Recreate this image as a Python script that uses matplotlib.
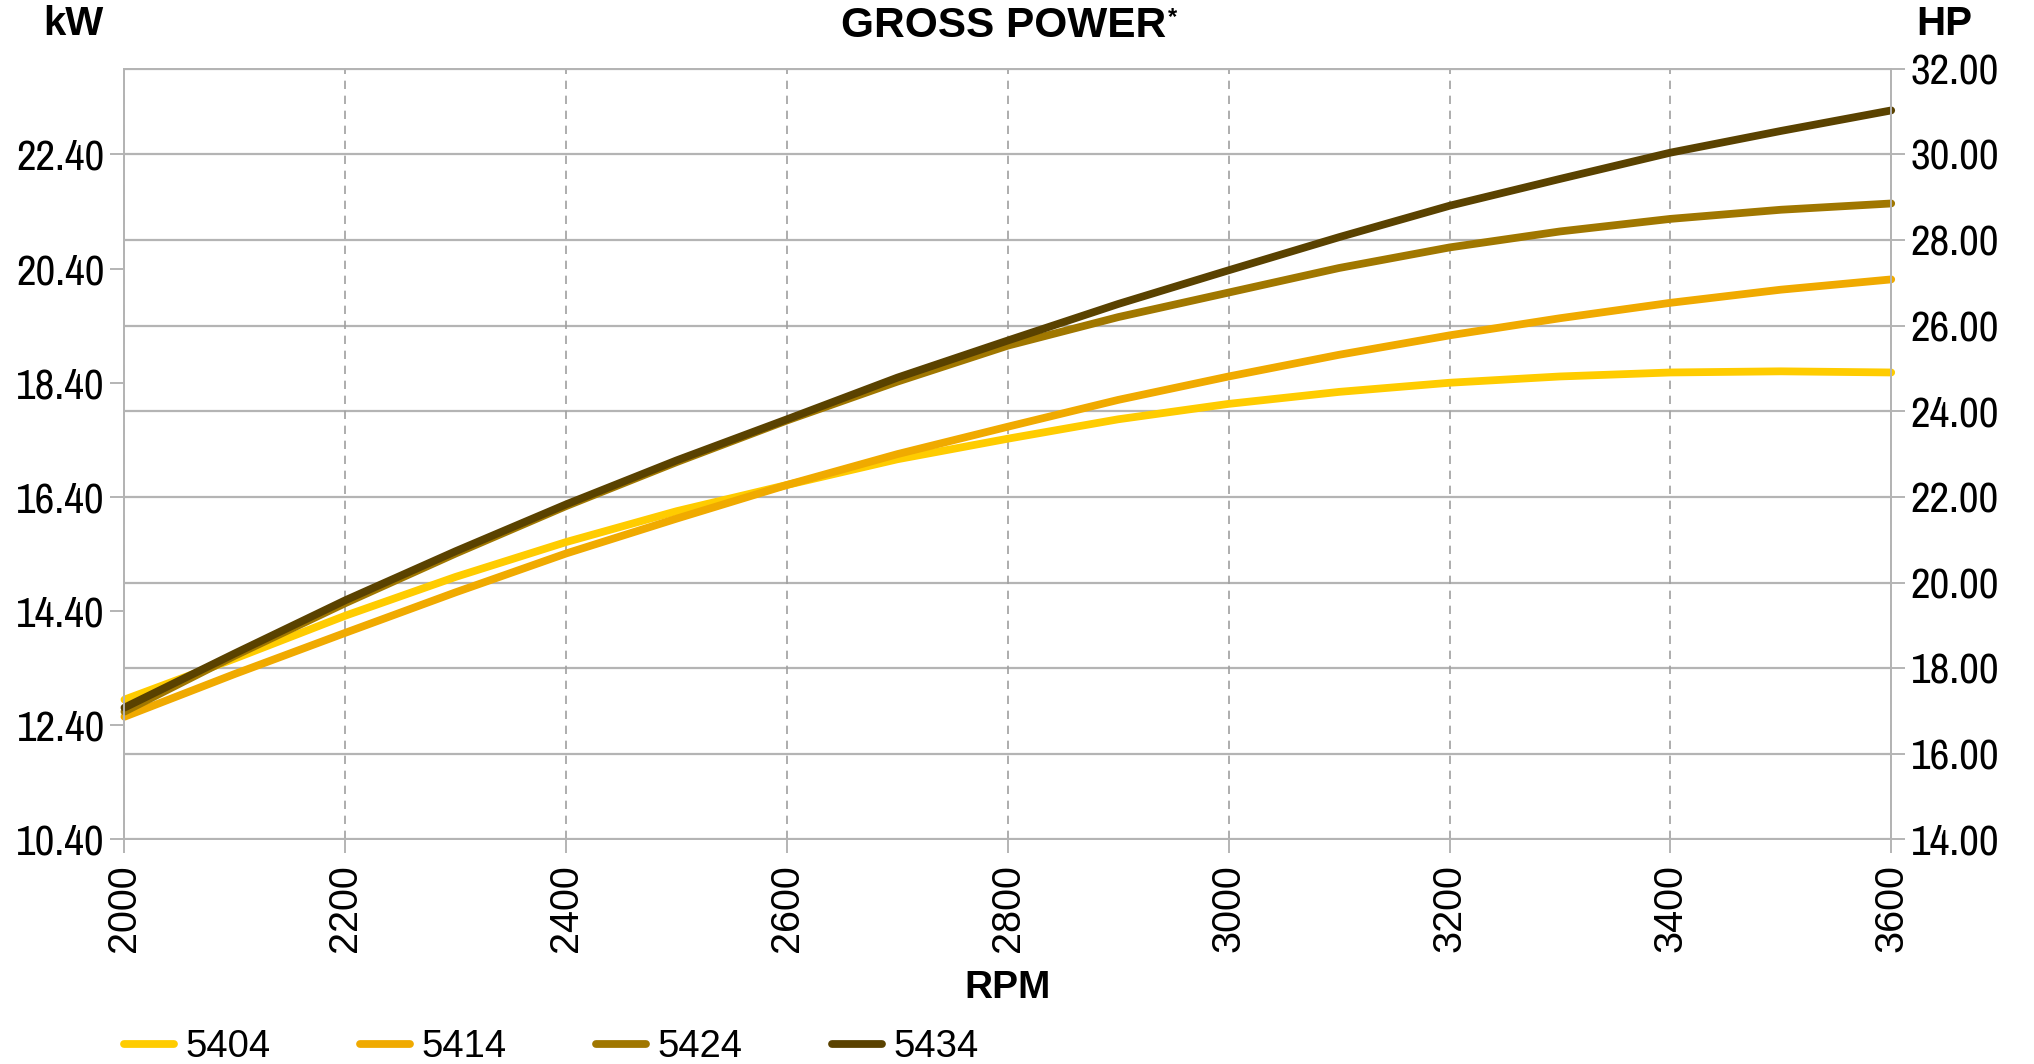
import numpy as np
import matplotlib as mpl
mpl.use('Agg')
import matplotlib.pyplot as plt
from matplotlib import font_manager

# fonts: a condensed family for the y ticks if one is installed
names = sorted({f.name for f in font_manager.fontManager.ttflist})
narrow = None
for n in names:
    if 'Narrow' in n or 'Condensed' in n:
        narrow = n
        break
if narrow is None:
    narrow = 'Liberation Sans'
    ytick_size = 25
else:
    ytick_size = 31
plt.rcParams['font.family'] = ['Liberation Sans', 'DejaVu Sans']

yellow = '#FFCC00'
orange = '#F0AA00'
brown = '#A07700'
dark = '#5A4200'
grid_grey = '#b4b4b4'

rpm = [2000, 2100, 2200, 2300, 2400, 2500, 2600, 2700, 2800,
       2900, 3000, 3100, 3200, 3300, 3400, 3500, 3600]
kw_5404 = [12.85, 13.57, 14.32, 15.00, 15.61, 16.15, 16.61, 17.06, 17.42,
           17.76, 18.03, 18.24, 18.40, 18.51, 18.58, 18.60, 18.58]
kw_5414 = [12.55, 13.30, 14.02, 14.73, 15.41, 16.02, 16.61, 17.15, 17.63,
           18.10, 18.51, 18.89, 19.23, 19.53, 19.80, 20.03, 20.21]
kw_5424 = [12.64, 13.62, 14.54, 15.41, 16.24, 17.01, 17.74, 18.42, 19.05,
           19.55, 19.98, 20.41, 20.77, 21.05, 21.27, 21.43, 21.54]
kw_5434 = [12.71, 13.66, 14.59, 15.45, 16.27, 17.04, 17.76, 18.49, 19.14,
           19.78, 20.37, 20.95, 21.50, 21.97, 22.43, 22.81, 23.17]
labels = ['5404', '5414', '5424', '5434']
colors = [yellow, orange, brown, dark]

kw_ticks = [10.40, 12.40, 14.40, 16.40, 18.40, 20.40, 22.40]
hp_ticks = [14, 16, 18, 20, 22, 24, 26, 28, 30, 32]
rpm_ticks = [2000, 2200, 2400, 2600, 2800, 3000, 3200, 3400, 3600]

fig = plt.figure(figsize=(20.34, 10.64), dpi=100)
ax = fig.add_axes([0.0612, 0.211, 0.8686, 0.7244])
ax2 = ax.twinx()
ax.set_zorder(ax2.get_zorder() + 1)
ax.patch.set_visible(False)

handles = []
for ys, c, lab in zip([kw_5404, kw_5414, kw_5424, kw_5434], colors, labels):
    h, = ax.plot(rpm, ys, color=c, lw=5.6, solid_capstyle='round',
                 solid_joinstyle='round', label=lab, clip_on=False)
    handles.append(h)

ax.set_xlim(2000, 3600)
ax.set_ylim(10.40, 10.40 + 18 * 0.75)
ax2.set_ylim(14, 32)

ax.set_xticks(rpm_ticks)
ax.set_xticklabels([str(r) for r in rpm_ticks], rotation=90, fontsize=28.5)
ax.set_yticks(kw_ticks)
ax.set_yticklabels(['%.2f' % v for v in kw_ticks], fontsize=ytick_size, family=narrow)
ax2.set_yticks(hp_ticks)
ax2.set_yticklabels(['%.2f' % v for v in hp_ticks], fontsize=ytick_size, family=narrow)

ax.xaxis.grid(True, color='#a0a0a0', ls=(0, (5, 4)), lw=1.2)
ax2.yaxis.grid(True, color=grid_grey, lw=1.6)
ax.yaxis.grid(False)

for a in (ax, ax2):
    for s in a.spines.values():
        s.set_color(grid_grey)
        s.set_linewidth(1.4)
    a.tick_params(color=grid_grey, width=1.4, length=10, pad=4)
ax.tick_params(axis='x', pad=8)

fig.text(0.036, 0.977, 'kW', ha='center', va='center', fontsize=29, weight='bold')
fig.text(0.956, 0.977, 'HP', ha='center', va='center', fontsize=29, weight='bold')
t = fig.text(0.4935, 0.976, 'GROSS POWER', ha='center', va='center', fontsize=30.5, weight='bold')
fig.text(0.4955, 0.071, 'RPM', ha='center', va='center', fontsize=28, weight='bold')
ax.annotate('*', xy=(1.0, 1.0), xycoords=t, xytext=(1, 0), textcoords='offset points',
            ha='left', va='top', fontsize=17, weight='bold')

fig.legend(handles=handles, labels=labels, loc='center left', bbox_to_anchor=(0.061, 0.016),
           ncol=4, frameon=False, fontsize=27.5, handlelength=1.3, handletextpad=0.3,
           columnspacing=2.35, borderpad=0, borderaxespad=0)

fig.savefig('out.png', dpi=100)
